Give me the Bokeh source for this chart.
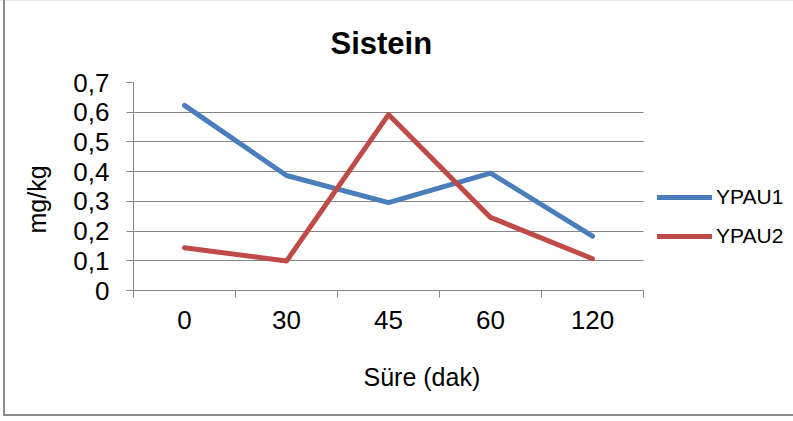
from bokeh.plotting import figure
from bokeh.models import (Range1d, FixedTicker, CustomJSTickFormatter, Legend,
                          LegendItem, Title)
from bokeh.embed import file_html
from bokeh.resources import INLINE

# ---- data ----
categories = ["0", "30", "45", "60", "120"]
ypau1 = [0.623, 0.387, 0.296, 0.395, 0.183]
ypau2 = [0.144, 0.099, 0.592, 0.246, 0.107]
y_ticks = [0, 0.1, 0.2, 0.3, 0.4, 0.5, 0.6, 0.7]
series_names = ["YPAU1", "YPAU2"]
title_text = "Sistein"
x_title = "Süre (dak)"
y_title = "mg/kg"

FONT = "Liberation Sans"
GRID = "#868686"
BLUE = "#4A7EBB"
RED = "#BE4B48"

# layout: category area is 510 px wide, frame reaches to the right edge (660 px)
n = len(categories)
x_pos = [i + 0.5 for i in range(n)]
x_bounds = list(range(n + 1))
x_end = n * 660 / 510

p = figure(width=793, height=421, output_backend="svg", toolbar_location=None,
           x_range=Range1d(0, x_end), y_range=Range1d(0, max(y_ticks)),
           min_border_left=133, min_border_right=0, min_border_top=82,
           min_border_bottom=131)
p.outline_line_color = None
p.background_fill_color = "white"
p.border_fill_alpha = 0
p.styles = {
    "background": ("linear-gradient(#8c8c8c,#8c8c8c) 3px 0px / 2px 416px no-repeat, "
                   "linear-gradient(#8c8c8c,#8c8c8c) 3px 414px / 790px 2px no-repeat, "
                   "linear-gradient(#e6e6e6,#e6e6e6) 0px 0px / 793px 1px no-repeat, "
                   "white")
}

p.title.text = title_text
p.title.align = "left"
p.title.offset = 197
p.title.text_font = FONT
p.title.text_font_size = "31px"
p.title.text_font_style = "bold"
p.title.text_color = "black"
p.title.standoff = 44

xa = p.xaxis[0]
xa.bounds = (0, n)
xa.ticker = FixedTicker(ticks=x_pos, minor_ticks=x_bounds)
xa.formatter = CustomJSTickFormatter(args=dict(labels=categories),
                                     code="return labels[Math.floor(tick)];")
xa.major_tick_line_color = None
xa.major_tick_out = 0
xa.major_tick_in = 0
xa.minor_tick_line_color = GRID
xa.minor_tick_out = 7
xa.minor_tick_in = 0
xa.axis_line_color = GRID
xa.major_label_text_font = FONT
xa.major_label_text_font_size = "26px"
xa.major_label_text_color = "black"
xa.major_label_standoff = 13

ya = p.yaxis[0]
ya.ticker = FixedTicker(ticks=y_ticks, minor_ticks=[])
ya.formatter = CustomJSTickFormatter(
    code="return tick == 0 ? '0' : tick.toFixed(1).replace('.', ',');")
ya.major_tick_line_color = GRID
ya.major_tick_out = 7
ya.major_tick_in = 0
ya.minor_tick_line_color = None
ya.axis_line_color = GRID
ya.major_label_text_font = FONT
ya.major_label_text_font_size = "26px"
ya.major_label_text_color = "black"
ya.major_label_standoff = 17

xt = Title(text=x_title, align="left", offset=230, standoff=58,
           text_font=FONT, text_font_size="25px", text_font_style="normal",
           text_color="black")
p.add_layout(xt, "below")
yt = Title(text=y_title, align="left", offset=57, standoff=39,
           text_font=FONT, text_font_size="25px", text_font_style="normal",
           text_color="black")
p.add_layout(yt, "left")

p.xgrid.visible = False
p.ygrid.grid_line_color = GRID
p.ygrid.grid_line_width = 1
p.ygrid.cross_bounds = (0, n)

r1 = p.line(x_pos, ypau1, line_color=BLUE, line_width=5,
            line_cap="round", line_join="round")
r2 = p.line(x_pos, ypau2, line_color=RED, line_width=5,
            line_cap="round", line_join="round")

legend = Legend(items=[LegendItem(label=series_names[0], renderers=[r1]),
                       LegendItem(label=series_names[1], renderers=[r2])],
                location=(524, 42), orientation="vertical",
                glyph_width=55, glyph_height=20, label_height=20,
                spacing=15, padding=0, margin=0, label_standoff=4,
                border_line_color=None, background_fill_alpha=0,
                label_text_font=FONT, label_text_font_size="21px",
                label_text_color="black")
p.add_layout(legend, "center")

open("out.html", "w").write(file_html(p, INLINE))
